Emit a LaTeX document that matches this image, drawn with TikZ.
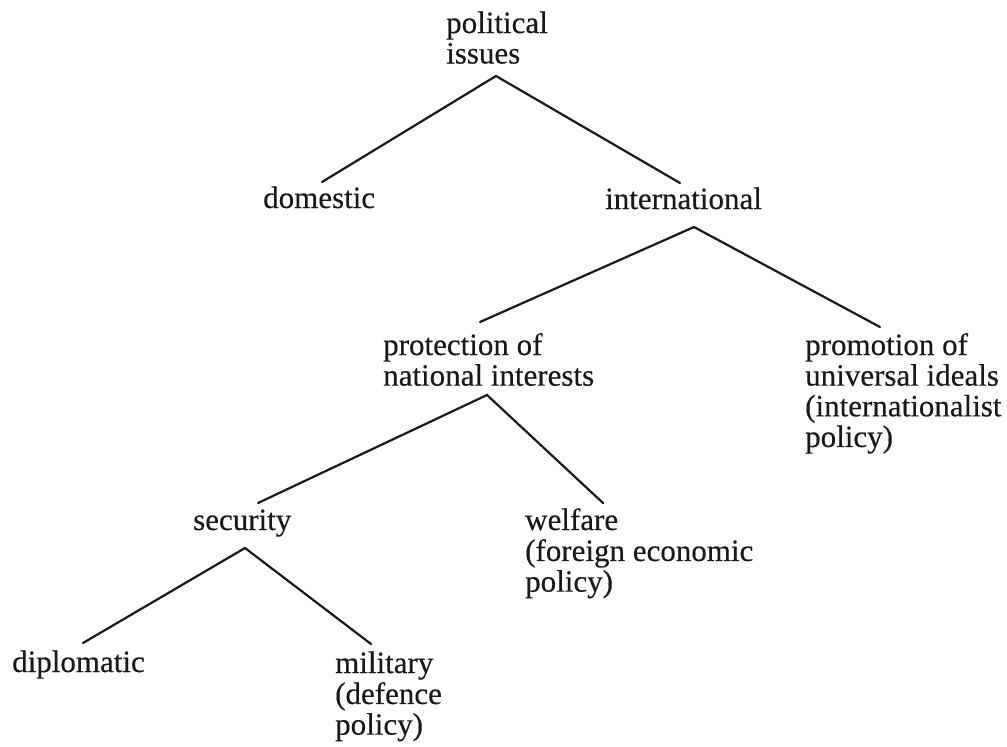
\documentclass[tikz,border=0pt]{standalone}
\usepackage{fontspec}
\setmainfont{Liberation Serif}
\newfontfamily\labelfont{Liberation Serif}[FakeBold=0.3]
\usetikzlibrary{calc}
\newcommand{\lbltext}[1]{\begin{tabular}[t]{@{}l@{}}#1\end{tabular}}
\begin{document}
\begin{tikzpicture}[x=1pt,y=-1pt,
  lbl/.style={anchor=base west, inner sep=0pt, text=black!90, font=\labelfont\fontsize{31}{30.5}\selectfont},
  edge/.style={line width=2.2pt, line cap=round, black!90}]
\useasboundingbox[fill=white] (0,0) rectangle (1007,747);
% nodes
\node[lbl] (pol)  at (446,33)  {\lbltext{political\\issues}};
\node[lbl] (dom)  at (263,208) {\lbltext{domestic}};
\node[lbl] (intl) at (605,209) {\lbltext{international}};
\node[lbl] (prot) at (383,355) {\lbltext{protection of\\national interests}};
\node[lbl] (prom) at (805,355) {\lbltext{promotion of\\universal ideals\\(internationalist\\policy)}};
\node[lbl] (sec)  at (193,530) {\lbltext{security}};
\node[lbl] (wel)  at (525,530) {\lbltext{welfare\\(foreign economic\\policy)}};
\node[lbl] (dip)  at (12,672)  {\lbltext{diplomatic}};
\node[lbl] (mil)  at (335,673) {\lbltext{military\\(defence\\policy)}};
% connector points
\coordinate (polB)  at ($(pol.base west)+(50,43)$);
\coordinate (domT)  at ($(dom.base west)+(59,-26)$);
\coordinate (intlT) at ($(intl.base west)+(75,-26)$);
\coordinate (intlB) at ($(intl.base west)+(89,18)$);
\coordinate (protT) at ($(prot.base west)+(97,-33)$);
\coordinate (protB) at ($(prot.base west)+(104,40)$);
\coordinate (promT) at ($(prom.base west)+(75,-28)$);
\coordinate (secT)  at ($(sec.base west)+(65,-27)$);
\coordinate (secB)  at ($(sec.base west)+(52,18)$);
\coordinate (welT)  at ($(wel.base west)+(78,-27)$);
\coordinate (dipT)  at ($(dip.base west)+(71,-29)$);
\coordinate (milT)  at ($(mil.base west)+(36,-29)$);
% connectors
\draw[edge] (domT) -- (polB) -- (intlT);
\draw[edge] (protT) -- (intlB) -- (promT);
\draw[edge] (secT) -- (protB) -- (welT);
\draw[edge] (dipT) -- (secB) -- (milT);
\end{tikzpicture}
\end{document}
